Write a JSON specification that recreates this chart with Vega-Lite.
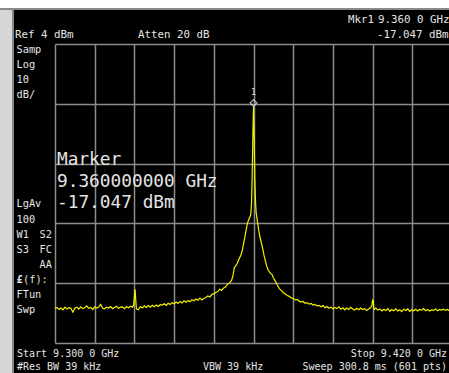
{
  "$schema": "https://vega.github.io/schema/vega-lite/v6.json",
  "width": 394,
  "height": 299,
  "autosize": {"type": "none"},
  "padding": {"left": 55, "top": 44, "right": 0, "bottom": 30},
  "background": "black",
  "config": {
    "view": {"stroke": null},
    "axis": {"grid": true, "gridColor": "#8c8c8c", "gridWidth": 1.5, "gridOpacity": 1, "labels": false, "ticks": false, "domain": false, "title": null},
    "text": {"font": "DejaVu Sans Mono", "color": "#e4e4e4", "fontSize": 10.3, "baseline": "alphabetic", "clip": false}
  },
  "datasets": {
    "trace": [
      {"f":9.3000,"p":-84.5},{"f":9.3006,"p":-84.1},{"f":9.3012,"p":-84.8},{"f":9.3018,"p":-84.3},{"f":9.3024,"p":-84.9},{"f":9.3030,"p":-84.0},{"f":9.3036,"p":-84.6},{"f":9.3042,"p":-84.2},{"f":9.3048,"p":-84.4},{"f":9.3054,"p":-85.7},{"f":9.3060,"p":-84.3},{"f":9.3066,"p":-84.0},{"f":9.3072,"p":-84.7},{"f":9.3078,"p":-83.9},{"f":9.3084,"p":-84.5},{"f":9.3090,"p":-84.2},{"f":9.3096,"p":-83.6},{"f":9.3102,"p":-84.4},{"f":9.3108,"p":-84.1},{"f":9.3114,"p":-84.8},{"f":9.3120,"p":-83.9},{"f":9.3126,"p":-84.3},{"f":9.3132,"p":-84.0},{"f":9.3138,"p":-83.1},{"f":9.3144,"p":-84.4},{"f":9.3150,"p":-84.6},{"f":9.3156,"p":-84.0},{"f":9.3162,"p":-84.3},{"f":9.3168,"p":-83.8},{"f":9.3174,"p":-84.5},{"f":9.3180,"p":-84.1},{"f":9.3186,"p":-83.7},{"f":9.3192,"p":-84.4},{"f":9.3198,"p":-84.0},{"f":9.3204,"p":-83.9},{"f":9.3210,"p":-84.5},{"f":9.3216,"p":-83.8},{"f":9.3222,"p":-84.2},{"f":9.3228,"p":-83.7},{"f":9.3234,"p":-84.0},{"f":9.3238,"p":-83.2},{"f":9.3240,"p":-80.5},{"f":9.3242,"p":-78.0},{"f":9.3244,"p":-81.5},{"f":9.3246,"p":-84.6},{"f":9.3252,"p":-84.9},{"f":9.3258,"p":-83.8},{"f":9.3264,"p":-84.3},{"f":9.3270,"p":-83.6},{"f":9.3276,"p":-84.1},{"f":9.3282,"p":-83.5},{"f":9.3288,"p":-84.0},{"f":9.3294,"p":-83.4},{"f":9.3300,"p":-83.9},{"f":9.3306,"p":-83.3},{"f":9.3312,"p":-83.8},{"f":9.3318,"p":-83.2},{"f":9.3324,"p":-83.3},{"f":9.3330,"p":-82.9},{"f":9.3336,"p":-83.4},{"f":9.3342,"p":-82.7},{"f":9.3348,"p":-83.1},{"f":9.3354,"p":-82.5},{"f":9.3360,"p":-82.9},{"f":9.3366,"p":-82.3},{"f":9.3372,"p":-82.8},{"f":9.3378,"p":-82.1},{"f":9.3384,"p":-82.6},{"f":9.3390,"p":-81.9},{"f":9.3396,"p":-82.4},{"f":9.3402,"p":-81.8},{"f":9.3408,"p":-82.2},{"f":9.3414,"p":-81.5},{"f":9.3420,"p":-81.9},{"f":9.3426,"p":-81.3},{"f":9.3432,"p":-81.7},{"f":9.3438,"p":-81.0},{"f":9.3444,"p":-81.6},{"f":9.3450,"p":-81.1},{"f":9.3456,"p":-80.8},{"f":9.3462,"p":-80.3},{"f":9.3468,"p":-80.6},{"f":9.3474,"p":-79.8},{"f":9.3480,"p":-79.5},{"f":9.3486,"p":-79.1},{"f":9.3492,"p":-78.8},{"f":9.3498,"p":-78.0},{"f":9.3504,"p":-78.4},{"f":9.3510,"p":-77.6},{"f":9.3516,"p":-77.2},{"f":9.3522,"p":-76.3},{"f":9.3528,"p":-75.9},{"f":9.3534,"p":-75.0},{"f":9.3538,"p":-73.4},{"f":9.3542,"p":-70.8},{"f":9.3546,"p":-70.2},{"f":9.3550,"p":-69.6},{"f":9.3554,"p":-68.5},{"f":9.3558,"p":-67.5},{"f":9.3562,"p":-66.6},{"f":9.3566,"p":-65.0},{"f":9.3570,"p":-62.8},{"f":9.3574,"p":-60.5},{"f":9.3578,"p":-58.0},{"f":9.3582,"p":-55.8},{"f":9.3586,"p":-54.6},{"f":9.3590,"p":-53.5},{"f":9.3592,"p":-52.8},{"f":9.3594,"p":-49.5},{"f":9.3596,"p":-40.0},{"f":9.3598,"p":-27.0},{"f":9.3600,"p":-17.047},{"f":9.3602,"p":-27.5},{"f":9.3604,"p":-41.0},{"f":9.3606,"p":-48.5},{"f":9.3608,"p":-52.5},{"f":9.3612,"p":-55.5},{"f":9.3616,"p":-58.5},{"f":9.3620,"p":-60.8},{"f":9.3624,"p":-62.6},{"f":9.3628,"p":-64.5},{"f":9.3632,"p":-66.8},{"f":9.3636,"p":-68.6},{"f":9.3640,"p":-70.3},{"f":9.3644,"p":-71.5},{"f":9.3648,"p":-72.2},{"f":9.3652,"p":-72.7},{"f":9.3656,"p":-73.1},{"f":9.3660,"p":-74.2},{"f":9.3666,"p":-75.3},{"f":9.3672,"p":-76.6},{"f":9.3678,"p":-77.8},{"f":9.3684,"p":-78.4},{"f":9.3690,"p":-79.2},{"f":9.3696,"p":-79.6},{"f":9.3702,"p":-80.1},{"f":9.3708,"p":-80.4},{"f":9.3714,"p":-80.9},{"f":9.3720,"p":-81.1},{"f":9.3726,"p":-81.6},{"f":9.3732,"p":-81.4},{"f":9.3738,"p":-82.0},{"f":9.3744,"p":-82.3},{"f":9.3750,"p":-82.1},{"f":9.3756,"p":-82.7},{"f":9.3762,"p":-82.5},{"f":9.3768,"p":-83.0},{"f":9.3774,"p":-82.8},{"f":9.3780,"p":-83.3},{"f":9.3786,"p":-83.1},{"f":9.3792,"p":-83.6},{"f":9.3798,"p":-83.4},{"f":9.3804,"p":-83.9},{"f":9.3810,"p":-83.5},{"f":9.3816,"p":-84.2},{"f":9.3822,"p":-83.8},{"f":9.3828,"p":-84.4},{"f":9.3834,"p":-84.0},{"f":9.3840,"p":-84.6},{"f":9.3846,"p":-84.1},{"f":9.3852,"p":-84.5},{"f":9.3858,"p":-83.9},{"f":9.3864,"p":-84.7},{"f":9.3870,"p":-84.2},{"f":9.3876,"p":-84.9},{"f":9.3882,"p":-84.3},{"f":9.3888,"p":-84.8},{"f":9.3894,"p":-84.1},{"f":9.3900,"p":-84.6},{"f":9.3906,"p":-85.0},{"f":9.3912,"p":-84.4},{"f":9.3918,"p":-84.9},{"f":9.3924,"p":-84.3},{"f":9.3930,"p":-84.8},{"f":9.3936,"p":-84.5},{"f":9.3942,"p":-85.1},{"f":9.3948,"p":-84.6},{"f":9.3954,"p":-84.2},{"f":9.3958,"p":-83.4},{"f":9.3960,"p":-81.5},{"f":9.3962,"p":-82.2},{"f":9.3964,"p":-84.8},{"f":9.3970,"p":-84.3},{"f":9.3976,"p":-85.0},{"f":9.3982,"p":-84.6},{"f":9.3988,"p":-85.3},{"f":9.3994,"p":-84.7},{"f":9.4000,"p":-85.1},{"f":9.4006,"p":-84.5},{"f":9.4012,"p":-85.4},{"f":9.4018,"p":-84.8},{"f":9.4024,"p":-85.2},{"f":9.4030,"p":-84.6},{"f":9.4036,"p":-85.3},{"f":9.4042,"p":-84.9},{"f":9.4048,"p":-85.5},{"f":9.4054,"p":-84.7},{"f":9.4060,"p":-85.1},{"f":9.4066,"p":-84.6},{"f":9.4072,"p":-85.4},{"f":9.4078,"p":-84.9},{"f":9.4084,"p":-85.2},{"f":9.4090,"p":-84.7},{"f":9.4096,"p":-85.3},{"f":9.4102,"p":-84.8},{"f":9.4108,"p":-85.0},{"f":9.4114,"p":-84.5},{"f":9.4120,"p":-85.2},{"f":9.4126,"p":-84.8},{"f":9.4132,"p":-85.3},{"f":9.4138,"p":-84.9},{"f":9.4144,"p":-85.1},{"f":9.4150,"p":-84.6},{"f":9.4156,"p":-85.2},{"f":9.4162,"p":-84.8},{"f":9.4168,"p":-85.0},{"f":9.4174,"p":-84.7},{"f":9.4180,"p":-85.1},{"f":9.4186,"p":-84.8},{"f":9.4192,"p":-85.2},{"f":9.4198,"p":-84.9},{"f":9.4200,"p":-85.0}
    ],
    "toplabels": [
      {"t":"Ref 4 dBm","f":9.28791,"p":6.01},
      {"t":"Atten 20 dB","f":9.32509,"p":6.01},
      {"t":"Mkr1","f":9.38857,"p":11.02},
      {"t":"9.360 0 GHz","f":9.39763,"p":11.02},
      {"t":"-17.047 dBm","f":9.39733,"p":6.01}
    ],
    "labels": [
      {"t":"Samp","f":9.28836,"p":0.99},
      {"t":"Log","f":9.28836,"p":-4.03},
      {"t":"10","f":9.28836,"p":-9.04},
      {"t":"dB/","f":9.28836,"p":-14.06},
      {"t":"LgAv","f":9.28836,"p":-50.52},
      {"t":"100","f":9.28836,"p":-55.87},
      {"t":"W1","f":9.28836,"p":-60.88},
      {"t":"S2","f":9.29531,"p":-60.88},
      {"t":"S3","f":9.28836,"p":-65.90},
      {"t":"FC","f":9.29531,"p":-65.90},
      {"t":"AA","f":9.29531,"p":-70.92},
      {"t":"(f):","f":9.29033,"p":-75.93},
      {"t":"FTun","f":9.28836,"p":-80.95},
      {"t":"Swp","f":9.28836,"p":-85.97}
    ],
    "botlabels": [
      {"t":"Start 9.300 0 GHz","f":9.28851,"p":-100.68},
      {"t":"#Res BW 39 kHz","f":9.28851,"p":-105.03},
      {"t":"VBW 39 kHz","f":9.34474,"p":-105.03}
    ],
    "rlabels": [
      {"t":"Stop 9.420 0 GHz","f":9.41849,"p":-100.68},
      {"t":"Sweep 300.8 ms (601 pts)","f":9.41849,"p":-105.03}
    ],
    "big": [
      {"t":"Marker","f":9.30060,"p":-36.47},
      {"t":"9.360000000 GHz","f":9.30060,"p":-43.83},
      {"t":"-17.047 dBm","f":9.30060,"p":-50.85}
    ],
    "mkr": [{"f":9.3600,"p":-17.047,"n":"1"}]
  },
  "layer": [
    {
      "data": {"values": [{}]},
      "mark": {"type": "rect", "fill": "#ffffff", "stroke": "#8a8a8a", "strokeWidth": 2, "clip": false},
      "encoding": {
        "x": {"datum": 9.28, "type": "quantitative", "scale": {"domain": [9.3, 9.41909], "nice": false, "zero": false}},
        "x2": {"datum": 9.44},
        "y": {"datum": 20.4, "type": "quantitative", "scale": {"domain": [-96, 4], "nice": false, "zero": false}},
        "y2": {"datum": 15.71}
      }
    },
    {
      "data": {"values": [{}]},
      "mark": {"type": "rect", "fill": "#d6d6d6", "stroke": "#8a8a8a", "strokeWidth": 2, "clip": false},
      "encoding": {
        "x": {"datum": 9.27, "type": "quantitative"},
        "x2": {"datum": 9.2873},
        "y": {"datum": 15.71, "type": "quantitative"},
        "y2": {"datum": -110}
      }
    },
    {
      "data": {"name": "trace"},
      "mark": {"type": "line", "color": "#f2f200", "strokeWidth": 1.2, "clip": false},
      "encoding": {
        "x": {"field": "f", "type": "quantitative", "axis": {"values": [9.3, 9.312, 9.324, 9.336, 9.348, 9.36, 9.372, 9.384, 9.396, 9.408]}},
        "y": {"field": "p", "type": "quantitative", "axis": {"values": [4, -6, -16, -26, -36, -46, -56, -66, -76, -86, -96]}}
      }
    },
    {
      "data": {"name": "toplabels"},
      "mark": {"type": "text", "align": "left", "fontSize": 10.8},
      "encoding": {
        "x": {"field": "f", "type": "quantitative"},
        "y": {"field": "p", "type": "quantitative"},
        "text": {"field": "t"}
      }
    },
    {
      "data": {"name": "labels"},
      "mark": {"type": "text", "align": "left"},
      "encoding": {
        "x": {"field": "f", "type": "quantitative"},
        "y": {"field": "p", "type": "quantitative"},
        "text": {"field": "t"}
      }
    },
    {
      "data": {"name": "botlabels"},
      "mark": {"type": "text", "align": "left", "fontSize": 10},
      "encoding": {
        "x": {"field": "f", "type": "quantitative"},
        "y": {"field": "p", "type": "quantitative"},
        "text": {"field": "t"}
      }
    },
    {
      "data": {"name": "rlabels"},
      "mark": {"type": "text", "align": "right", "fontSize": 10},
      "encoding": {
        "x": {"field": "f", "type": "quantitative"},
        "y": {"field": "p", "type": "quantitative"},
        "text": {"field": "t"}
      }
    },
    {
      "data": {"name": "big"},
      "mark": {"type": "text", "align": "left", "fontSize": 17.8},
      "encoding": {
        "x": {"field": "f", "type": "quantitative"},
        "y": {"field": "p", "type": "quantitative"},
        "text": {"field": "t"}
      }
    },
    {
      "data": {"values": [{"t": "£", "f": 9.28836, "p": -75.93}]},
      "mark": {"type": "text", "align": "left", "fontWeight": "bold"},
      "encoding": {
        "x": {"field": "f", "type": "quantitative"},
        "y": {"field": "p", "type": "quantitative"},
        "text": {"field": "t"}
      }
    },
    {
      "data": {"name": "mkr"},
      "mark": {"type": "point", "shape": "diamond", "filled": false, "stroke": "#f0f0f0", "strokeWidth": 1.3, "size": 45, "yOffset": -4, "clip": false},
      "encoding": {
        "x": {"field": "f", "type": "quantitative"},
        "y": {"field": "p", "type": "quantitative"}
      }
    },
    {
      "data": {"name": "mkr"},
      "mark": {"type": "text", "align": "center", "fontSize": 9, "dy": -12, "color": "#d0d0d0"},
      "encoding": {
        "x": {"field": "f", "type": "quantitative"},
        "y": {"field": "p", "type": "quantitative"},
        "text": {"field": "n"}
      }
    }
  ]
}
